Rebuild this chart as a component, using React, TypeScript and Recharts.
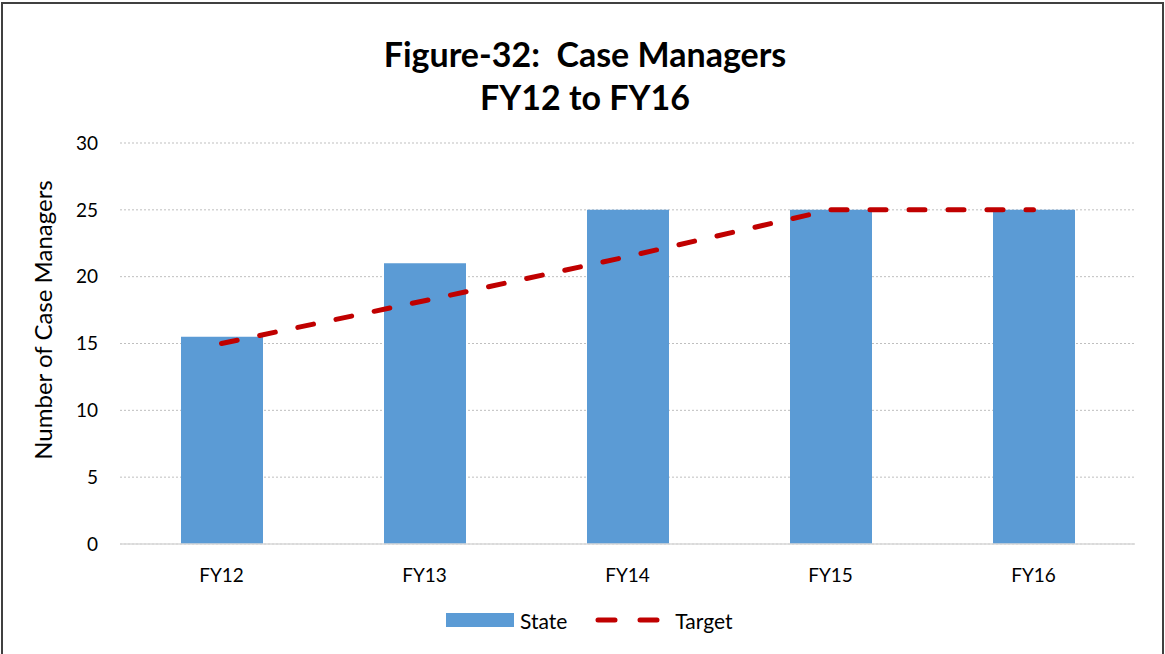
import React from "react";
import {
  ComposedChart,
  Bar,
  Line,
  XAxis,
  YAxis,
  CartesianGrid,
} from "recharts";

const years = ["FY12", "FY13", "FY14", "FY15", "FY16"];
const stateValues = [15.5, 21, 25, 25, 25];
const targetValues = [15, 18.2, 21.5, 25, 25];
const yTicks = [0, 5, 10, 15, 20, 25, 30];

const FONT = "Lato, 'Open Sans', sans-serif";
const BLUE = "#5b9bd5";
const RED = "#c00000";

const chartData = years.map((y, i) => ({
  year: y,
  state: stateValues[i],
  target: targetValues[i],
}));

const YLabel = ({ viewBox }: any) => {
  const cx = viewBox.x + 22;
  const cy = 320;
  return (
    <text
      x={cx}
      y={cy}
      transform={`rotate(-90, ${cx}, ${cy})`}
      textAnchor="middle"
      dominantBaseline="central"
      fontFamily={FONT}
      fontSize={24}
      fill="#000"
    >
      Number of Case Managers
    </text>
  );
};

const LegendBox = () => (
  <div
    style={{
      position: "absolute",
      top: 606,
      left: 446,
      display: "flex",
      alignItems: "center",
      fontFamily: FONT,
      fontSize: 21,
      color: "#000",
      height: 28,
    }}
  >
    <span style={{ width: 68, height: 14, background: BLUE, marginRight: 6 }} />
    <span style={{ marginRight: 28 }}>State</span>
    <svg width={68} height={10} style={{ marginRight: 12 }}>
      <line x1={3} y1={5} x2={65} y2={5} stroke={RED} strokeWidth={5} strokeLinecap="round" strokeDasharray="17 25" />
    </svg>
    <span>Target</span>
  </div>
);

export default function App() {
  return (
    <div style={{ position: "relative", width: 1165, height: 654, background: "#fff", overflow: "hidden" }}>
      <style>{`body{margin:0}`}</style>
      <div
        style={{
          position: "absolute",
          left: 1,
          top: 2,
          width: 1163,
          height: 700,
          boxSizing: "border-box",
          border: "2px solid #404040",
        }}
      />
      <div
        style={{
          position: "absolute",
          top: 32,
          left: 0,
          width: 1170,
          textAlign: "center",
          fontFamily: FONT,
          fontWeight: 700,
          fontSize: 34,
          lineHeight: "43px",
          color: "#000",
        }}
      >
        <div style={{ whiteSpace: "pre" }}>{"Figure-32:  Case Managers"}</div>
        <div>FY12 to FY16</div>
      </div>
      <div style={{ position: "absolute", left: 0, top: 0 }}>
        <ComposedChart
          width={1165}
          height={654}
          data={chartData}
          margin={{ top: 143, right: 30, left: 20, bottom: 70 }}
        >
          <CartesianGrid vertical={false} stroke="#bfbfbf" strokeDasharray="2 2" />
          <XAxis
            dataKey="year"
            axisLine={{ stroke: "#d9d9d9", strokeWidth: 1.5 }}
            tickLine={false}
            tick={{ fill: "#000", fontSize: 19, fontFamily: FONT }}
            tickMargin={19}
            height={40}
          />
          <YAxis
            domain={[0, 30]}
            ticks={yTicks}
            width={100}
            axisLine={false}
            tickLine={false}
            tick={{ fill: "#000", fontSize: 19, fontFamily: FONT }}
            tickMargin={16}
            label={<YLabel />}
          />
          <Bar dataKey="state" name="State" fill={BLUE} barSize={82} isAnimationActive={false} />
          <Line
            dataKey="target"
            name="Target"
            type="linear"
            stroke={RED}
            strokeWidth={5}
            strokeLinecap="round"
            strokeDasharray="16 23"
            dot={false}
            activeDot={false}
            isAnimationActive={false}
          />
        </ComposedChart>
      </div>
      <LegendBox />
    </div>
  );
}
